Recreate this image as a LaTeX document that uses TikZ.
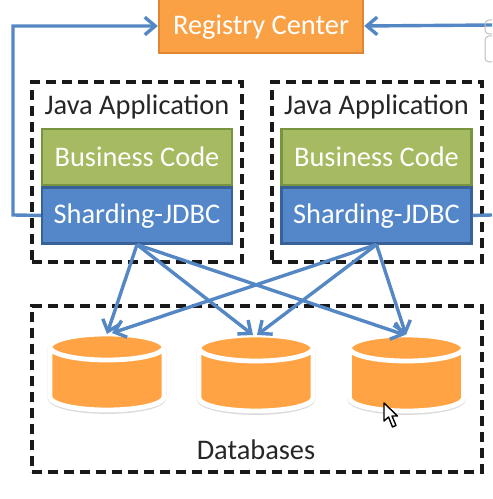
\documentclass[tikz,border=0pt]{standalone}
\usepackage{fontspec}
\setmainfont{Carlito}
\usepackage{xcolor}
\usetikzlibrary{arrows.meta,positioning}
\definecolor{regfill}{rgb}{0.98,0.63,0.27}
\definecolor{regline}{rgb}{0.88,0.52,0.20}
\definecolor{bizfill}{rgb}{0.65,0.73,0.38}
\definecolor{bizline}{rgb}{0.47,0.58,0.25}
\definecolor{shdfill}{rgb}{0.33,0.53,0.79}
\definecolor{shdline}{rgb}{0.22,0.38,0.60}
\definecolor{link}{rgb}{0.33,0.53,0.77}
\definecolor{dbfill}{rgb}{1.00,0.64,0.27}
% #1 centre x, #2 centre y of the top end
\newcommand{\DbDrum}[2]{
  \draw[black!14,line width=1.2mm] (#1-57,#2) -- (#1-57,#2+51) arc[start angle=180,end angle=0,x radius=57,y radius=13.5] -- (#1+57,#2);
  \fill[dbfill] (#1-57,#2) -- (#1-57,#2+50) arc[start angle=180,end angle=0,x radius=57,y radius=13] -- (#1+57,#2) arc[start angle=360,end angle=180,x radius=57,y radius=13] -- cycle;
  \draw[white,line width=1.2mm] (#1-57,#2) arc[start angle=180,end angle=-180,x radius=57,y radius=13]
    (#1-57,#2) -- (#1-57,#2+50) arc[start angle=180,end angle=0,x radius=57,y radius=13] -- (#1+57,#2);
}

\begin{document}
\begin{tikzpicture}[
  x=0.25mm,y=-0.25mm,
  font=\fontsize{20.2pt}{22pt}\selectfont,
  box/.style={draw,line width=0.6mm,minimum width=47.5mm,minimum height=14mm,
              inner sep=0pt,text=white},
  reg/.style={box,fill=regfill,draw=regline,minimum width=51mm,minimum height=13.5mm,text depth=2pt},
  biz/.style={box,fill=bizfill,draw=bizline},
  shd/.style={box,fill=shdfill,draw=shdline,text depth=2pt},
  group/.style={draw=black!90,line width=0.78mm,dash pattern=on 2.6mm off 1.4mm,
                minimum width=52.5mm,minimum height=45mm,inner sep=0pt},
  ar/.style={line width=0.85mm,draw=link,-{Straight Barb[length=2.6mm,width=4.4mm]}},
  ln/.style={line width=0.85mm,draw=link},
  lbl/.style={text=black!85,inner sep=0pt}]
\useasboundingbox (0,0) rectangle (492,499);

% outer groups
\node[group] (app1) at (137,172) {};
\node[group] (app2) at (377,172) {};
\node[group,minimum width=112.5mm,minimum height=41.5mm] (dbs) at (257,389) {};

\node[reg] (rc) at (261,26) {Registry Center};

\node[biz] (bc1) at (137,157) {Business Code};
\node[shd,below=0mm of bc1] (sj1) {Sharding-JDBC};
\node[lbl,above=3.4mm of bc1,anchor=base] (ja1) {Java Application};

\node[biz] (bc2) at (376.5,157) {Business Code};
\node[shd,below=0mm of bc2] (sj2) {Sharding-JDBC};
\node[lbl,above=3.4mm of bc2,anchor=base] (ja2) {Java Application};

\DbDrum{107}{347}
\DbDrum{256}{348}
\DbDrum{406.5}{348}
\node[lbl] (dl) at (256,450) {Databases};

\coordinate (lc) at (13,215);
\coordinate (rc1) at (492,215);
\coordinate (rc2) at (492,25);
\coordinate (t1a) at (107,334);
\coordinate (t1b) at (112,333);
\coordinate (t2a) at (253,335);
\coordinate (t2b) at (257,335);
\coordinate (t3a) at (405,335);
\coordinate (t3b) at (406,335);

\draw[ar] (sj1.west) -- (lc) |- (rc.west);
\draw[ln] (sj2.east) -- (rc1);
\draw[ar] (rc2) -- (rc.east);

\draw[ar] (sj1.south) -- (t1a);
\draw[ar] (sj1.south) -- (t2a);
\draw[ar] (sj1.south) -- (t3a);
\draw[ar] (sj2.south) -- (t1b);
\draw[ar] (sj2.south) -- (t2b);
\draw[ar] (sj2.south) -- (t3b);

% pointer
\draw[fill=white,line width=0.35mm,line join=round] (384,403) -- (384,421) -- (388.5,417) -- (392.5,427) -- (396,425.5) -- (392,416) -- (397.5,416) -- cycle;

% window edge at the right
\draw[black!25,line width=0.25mm,rounded corners=1mm] (492,20) -- (485,20) -- (485,34) -- (492,34);
\draw[black!25,line width=0.25mm,rounded corners=1mm] (492,36) -- (485,36) -- (485,62) -- (492,62);
\end{tikzpicture}
\end{document}
